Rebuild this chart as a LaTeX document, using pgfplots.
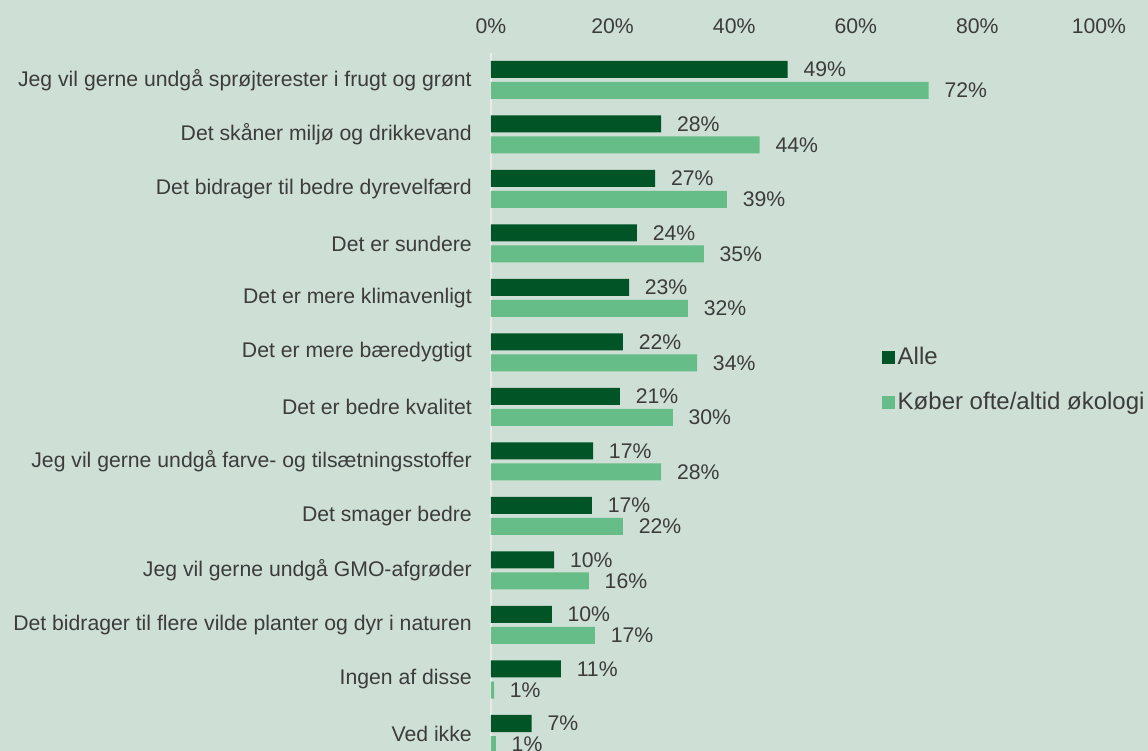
\documentclass[border=0pt]{standalone}
\usepackage{pgfplots}
\pgfplotsset{compat=1.18}
\usepackage{pgfplotstable}
\usepackage{fontspec}
\setmainfont{Liberation Sans}
\definecolor{bgc}{RGB}{206,223,213}
\definecolor{darkg}{RGB}{0,84,38}
\definecolor{lightg}{RGB}{102,189,136}
\definecolor{textc}{RGB}{60,60,60}
\definecolor{axc}{RGB}{232,236,233}

\pgfplotstableread{
y v lab
12 48.8 49
11 28.0 28
10 27.0 27
9 24.0 24
8 22.7 23
7 21.7 22
6 21.2 21
5 16.8 17
4 16.6 17
3 10.4 10
2 10.0 10
1 11.5 11
0 6.7 7
}\alle

\pgfplotstableread{
y v lab
12 72.0 72
11 44.2 44
10 38.8 39
9 35.0 35
8 32.4 32
7 33.9 34
6 29.9 30
5 28.0 28
4 21.7 22
3 16.1 16
2 17.1 17
1 0.5 1
0 0.8 1
}\ofte

\begin{document}
\begin{tikzpicture}
\fill[bgc] (-245.5pt,5.125pt) rectangle (328.5pt,380.625pt);
\begin{axis}[
  at={(0,0)}, anchor=south west,
  scale only axis,
  width=304pt, height=354.25pt,
  xmin=0, xmax=100, ymin=-0.5, ymax=12.5,
  enlargelimits=false,
  clip=false,
  xbar, bar width=8.5pt,
  axis x line*=top, axis y line*=left,
  x axis line style={draw=none},
  y axis line style={draw=axc, line width=1pt},
  tick style={draw=none},
  major tick length=0pt,
  xtick={0,20,40,60,80,100},
  xticklabel={\pgfmathprintnumber{\tick}\%},
  /pgf/number format/assume math mode=true,
  xticklabel style={anchor=base, yshift=9.4pt},
  ytick={0,1,2,3,4,5,6,7,8,9,10,11,12},
  yticklabels={Ved ikke, Ingen af disse, Det bidrager til flere vilde planter og dyr i naturen, Jeg vil gerne undgå GMO-afgrøder, Det smager bedre, Jeg vil gerne undgå farve- og tilsætningsstoffer, Det er bedre kvalitet, Det er mere bæredygtigt, Det er mere klimavenligt, Det er sundere, Det bidrager til bedre dyrevelfærd, Det skåner miljø og drikkevand, Jeg vil gerne undgå sprøjterester i frugt og grønt},
  yticklabel style={anchor=east, xshift=-6.1pt},
  ticklabel style={font=\fontsize{10.6}{12.7}\selectfont, text=textc},
  point meta=explicit,
  nodes near coords={\pgfmathprintnumber{\pgfplotspointmeta}\%},
  nodes near coords style={anchor=west, xshift=4.4pt, font=\fontsize{10.6}{12.7}\selectfont, text=textc},
  legend image code/.code={\fill[#1] (0pt,-3.2pt) rectangle (6.2pt,3.2pt);},
  legend style={at={(0.643,0.538)}, anchor=west, draw=none, fill=none, inner sep=0pt,
    font=\fontsize{12}{14.4}\selectfont, text=textc, row sep=9.5pt,
    nodes={inner sep=1.5pt}},
  legend cell align=left,
]
\addplot[fill=darkg, draw=none, bar shift=5.25pt] table[x=v, y=y, meta=lab] {\alle};
\addplot[fill=lightg, draw=none, bar shift=-5.25pt] table[x=v, y=y, meta=lab] {\ofte};
\legend{Alle, Køber ofte/altid økologi}
\end{axis}
\pgfresetboundingbox
\path[use as bounding box] (-245.5pt,5.125pt) rectangle (328.5pt,380.625pt);
\end{tikzpicture}
\end{document}
